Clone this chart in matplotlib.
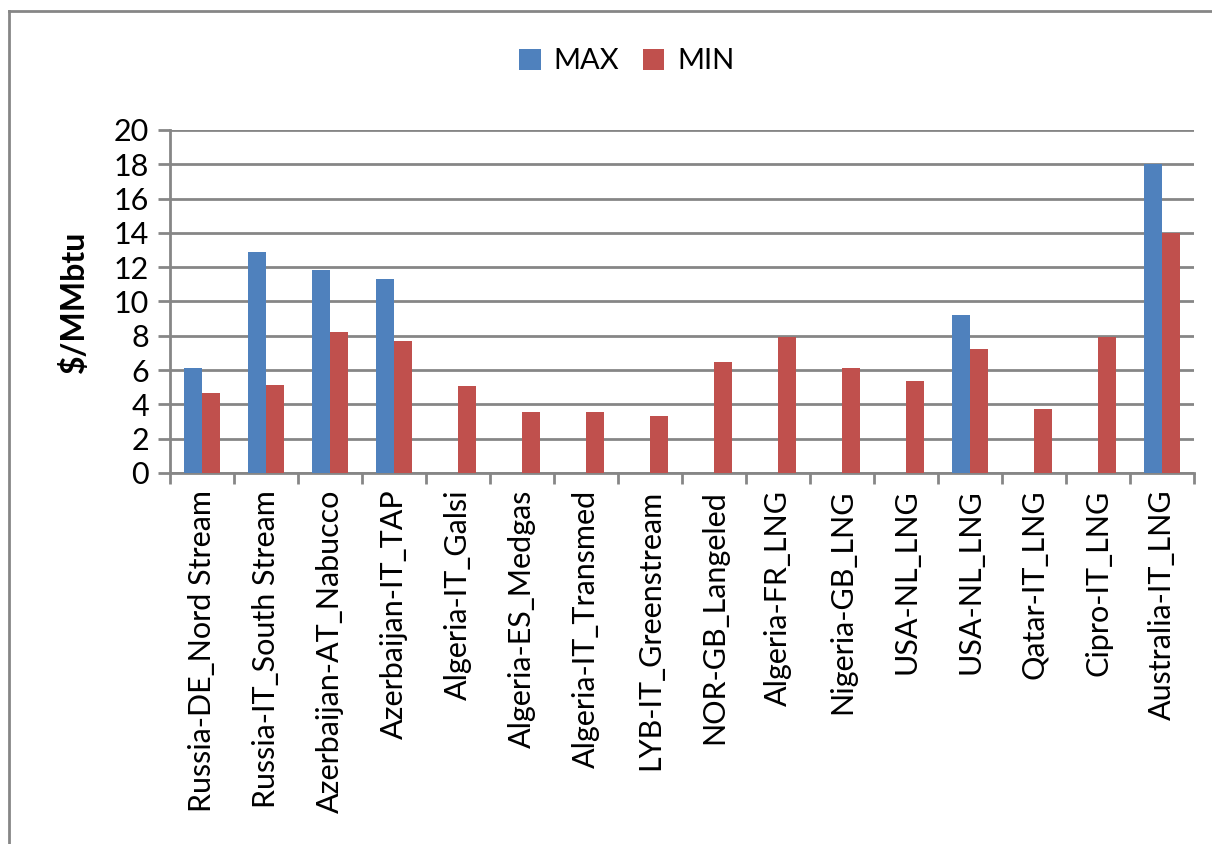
import numpy as np
import matplotlib.pyplot as plt
from matplotlib.lines import Line2D

# routes and their price range ($/MMbtu)
routes = ['Russia-DE_Nord Stream', 'Russia-IT_South Stream', 'Azerbaijan-AT_Nabucco',
          'Azerbaijan-IT_TAP', 'Algeria-IT_Galsi', 'Algeria-ES_Medgas',
          'Algeria-IT_Transmed', 'LYB-IT_Greenstream', 'NOR-GB_Langeled',
          'Algeria-FR_LNG', 'Nigeria-GB_LNG', 'USA-NL_LNG', 'USA-NL_LNG',
          'Qatar-IT_LNG', 'Cipro-IT_LNG', 'Australia-IT_LNG']
max_vals = [6.1, 12.9, 11.85, 11.3, 0, 0, 0, 0, 0, 0, 0, 0, 9.2, 0, 0, 18.0]
min_vals = [4.65, 5.15, 8.2, 7.7, 5.05, 3.57, 3.57, 3.3, 6.5, 7.9, 6.1, 5.35, 7.2, 3.75, 7.9, 14.0]

plt.rcParams['font.family'] = ['Lato', 'DejaVu Sans']
grey = '#868686'

fig = plt.figure(figsize=(12.12, 8.44), dpi=100)
ax = fig.add_axes([0.1403, 0.4396, 0.8449, 0.4064])

x = np.arange(len(routes))
w = 0.28
ax.bar(x - w/2, max_vals, w, color='#4F81BD', label='MAX', zorder=3)
ax.bar(x + w/2, min_vals, w, color='#C0504D', label='MIN', zorder=3)

ax.set_xlim(-0.5, len(routes) - 0.5)
ax.set_ylim(0, 20)
ax.set_yticks(range(0, 21, 2))
ax.yaxis.grid(True, color=grey, linewidth=2)
ax.set_axisbelow(True)

ax.set_xticks(x)
ax.set_xticklabels(routes, rotation=90, fontsize=22)
ax.set_xticks(np.arange(-0.5, len(routes), 1), minor=True)
ax.tick_params(axis='x', which='major', length=0, pad=12)
ax.tick_params(axis='x', which='minor', length=8, width=2, color=grey, direction='out')
ax.tick_params(axis='y', labelsize=22, length=9, width=2, color=grey, pad=6)

for s in ['top', 'right']:
    ax.spines[s].set_visible(False)
for s in ['left', 'bottom']:
    ax.spines[s].set_color(grey)
    ax.spines[s].set_linewidth(2)

ax.set_ylabel('\\$/MMbtu', fontsize=23, fontweight='bold', labelpad=18)

ax.legend(loc='center', bbox_to_anchor=(0.446, 1.2), ncol=2, frameon=False,
          fontsize=21, handlelength=0.75, handleheight=0.75, handletextpad=0.45,
          columnspacing=0.8)

# chart frame
fig.add_artist(Line2D([9/1212, 9/1212], [0, 1 - 11/844], color=grey, linewidth=2))
fig.add_artist(Line2D([9/1212, 1], [1 - 11/844, 1 - 11/844], color=grey, linewidth=2))

plt.savefig('out.png', dpi=100)
